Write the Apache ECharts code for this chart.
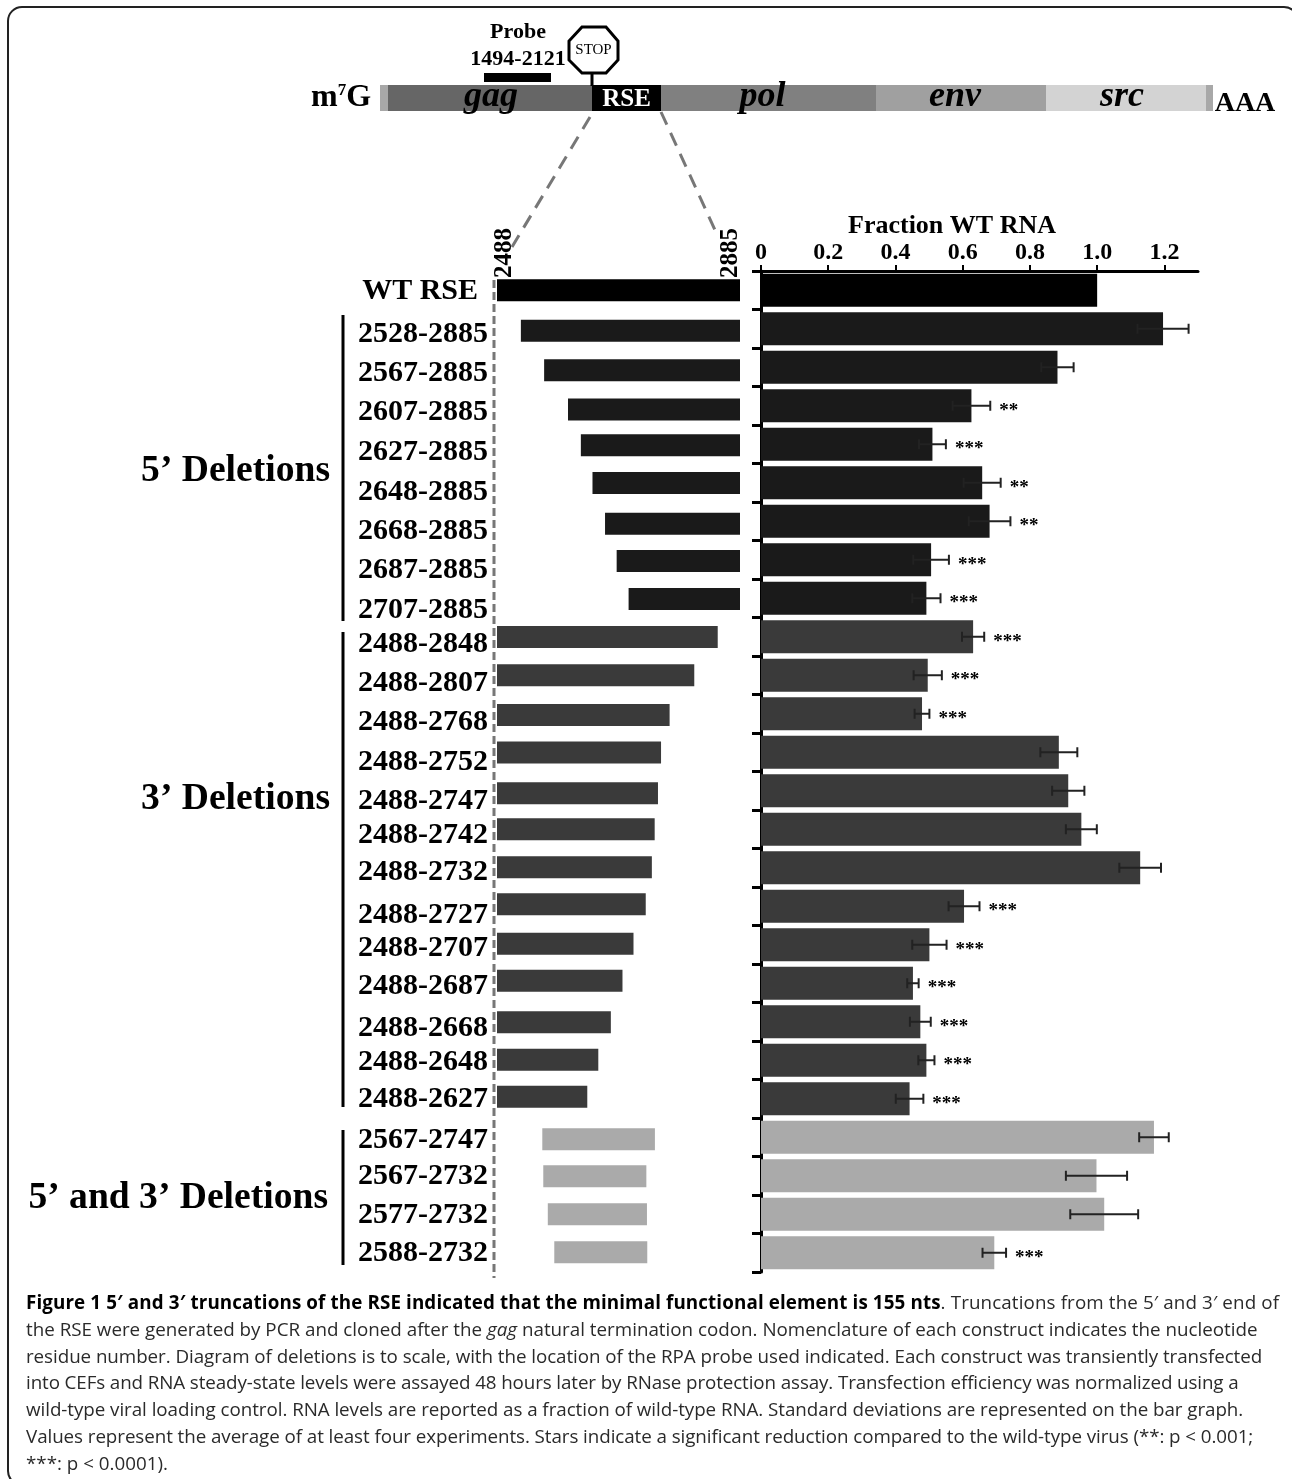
<!DOCTYPE html>
<html>
<head>
<meta charset="utf-8">
<title>Figure 1</title>
<script src="https://cdn.jsdelivr.net/npm/echarts@6/dist/echarts.min.js"></script>
<style>
body { margin: 0; background: #fff; }
#chart { width: 1292px; height: 1479px; }
#caption { position: absolute; left: 26px; top: 1289px; font-family: "Open Sans", sans-serif; font-size: 18.8px; line-height: 26.75px; color: #2a2a2a; white-space: nowrap; }
#caption b { color: #000; }
</style>
</head>
<body>
<div id="chart"></div>
<div id="caption">
<div style="letter-spacing:.12px"><b>Figure 1 5&#8242; and 3&#8242; truncations of the RSE indicated that the minimal functional element is 155 nts</b>. Truncations from the 5&#8242; and 3&#8242; end of</div>
<div>the RSE were generated by PCR and cloned after the <i>gag</i> natural termination codon. Nomenclature of each construct indicates the nucleotide</div>
<div style="letter-spacing:-.055px">residue number. Diagram of deletions is to scale, with the location of the RPA probe used indicated. Each construct was transiently transfected</div>
<div style="letter-spacing:-.107px">into CEFs and RNA steady-state levels were assayed 48 hours later by RNase protection assay. Transfection efficiency was normalized using a</div>
<div style="letter-spacing:-.05px">wild-type viral loading control. RNA levels are reported as a fraction of wild-type RNA. Standard deviations are represented on the bar graph.</div>
<div style="letter-spacing:-.07px">Values represent the average of at least four experiments. Stars indicate a significant reduction compared to the wild-type virus (**: p &lt; 0.001;</div>
<div>***: p &lt; 0.0001).</div>
</div>
<script>
// construct names, top to bottom
var constructs = ["WT RSE",
    "2528-2885","2567-2885","2607-2885","2627-2885","2648-2885","2668-2885","2687-2885","2707-2885",
    "2488-2848","2488-2807","2488-2768","2488-2752","2488-2747","2488-2742","2488-2732","2488-2727",
    "2488-2707","2488-2687","2488-2668","2488-2648","2488-2627",
    "2567-2747","2567-2732","2577-2732","2588-2732"];
// 0 wt, 1 = 5' deletion, 2 = 3' deletion, 3 = both
var constructGroup = [0, 1,1,1,1,1,1,1,1, 2,2,2,2,2,2,2,2,2,2,2,2,2, 3,3,3,3];
var groupColor = ["#000000", "#1a1a1a", "#3a3a3a", "#aaaaaa"];

// left panel, drawn extent of each bar (nt)
var barStart = [2488, 2527,2565,2604,2625,2644,2664.5,2683.5,2703,
    2488,2488,2488,2488,2488,2488,2488,2488,2488,2488,2488,2488,2488,
    2562,2563.6,2571,2581.6];
var barEnd = [2885, 2885,2885,2885,2885,2885,2885,2885,2885,
    2848.6,2810.3,2770,2756,2751,2745.6,2741,2731,2711,2693,2674,2653.5,2635.5,
    2746,2732,2733,2733.5];

// right panel, fraction of WT RNA
var fractionWT = [1.0, 1.196,0.882,0.626,0.51,0.658,0.68,0.506,0.492,
    0.631,0.496,0.479,0.886,0.914,0.953,1.128,0.604,0.501,0.452,0.474,0.492,0.442,
    1.169,0.998,1.021,0.694];
var fractionSD = [0, 0.076,0.048,0.056,0.04,0.055,0.062,0.053,0.042,
    0.033,0.042,0.022,0.055,0.048,0.046,0.062,0.046,0.051,0.017,0.031,0.024,0.041,
    0.044,0.091,0.101,0.035];
var stars = ["", "","","**","***","**","**","***","***",
    "***","***","***","","","","","***","***","***","***","***","***",
    "","","","***"];
var fractionTicks = [0, 0.2, 0.4, 0.6, 0.8, 1.0, 1.2];

// genome map, segment widths as drawn
var genomeNames = ["", "gag", "RSE", "pol", "env", "src", " "];
var genomeWidths = [8, 204, 69, 215, 170, 160, 7];
var genomeColors = ["#a8a8a8", "#666666", "#000000", "#808080", "#a0a0a0", "#d3d3d3", "#a8a8a8"];
var genomeLabelShift = [0, 1, 0, -6, -6, -4, 0];

// the figure's hand placed rows are a little off the regular grid
var barNudge = [0,2,3,3.8,1,0.2,2.5,1.3,0.7,0.3,0,1.2,0.3,2.5,0,-0.5,-2,-1,-2.5,0.5,-0.6,-2,2,0.5,0,-0.5];
var labelNudge = [-2,2.5,3,3.5,5,6.5,7,7.5,9,4.5,5,6,7,7.5,3,2,6,1,0,4,-1,-2,0,-2.5,-1.5,-2];

var SERIF = '"Liberation Serif", serif';
var myChart = echarts.init(document.getElementById("chart"));

function leftBars(params, api) {
    var i = api.value(2);
    var a = api.coord([api.value(0), i]);
    var b = api.coord([api.value(1), i]);
    return {
        type: "rect",
        shape: { x: a[0], y: a[1] - 11 + barNudge[i], width: b[0] - a[0], height: 22 },
        style: { fill: groupColor[constructGroup[i]] }
    };
}

function rowLabels(params, api) {
    var i = api.value(1);
    var p = api.coord([api.value(0), i]);
    return {
        type: "text",
        style: {
            x: p[0] - (i === 0 ? 19 : 9),
            y: p[1] + labelNudge[i] + 2.5,
            text: constructs[i],
            textAlign: "right",
            textVerticalAlign: "middle",
            font: "bold 30px " + SERIF,
            fill: "#000"
        }
    };
}

function errorBars(params, api) {
    var i = api.value(0);
    var mean = api.value(1), sd = api.value(2);
    if (!sd) return null;
    var lo = api.coord([mean - sd, i]);
    var hi = api.coord([mean + sd, i]);
    var line = { stroke: "#222", lineWidth: 2 };
    var kids = [
        { type: "line", shape: { x1: lo[0], y1: lo[1], x2: hi[0], y2: hi[1] }, style: line },
        { type: "line", shape: { x1: lo[0], y1: lo[1] - 5, x2: lo[0], y2: lo[1] + 5 }, style: line },
        { type: "line", shape: { x1: hi[0], y1: hi[1] - 5, x2: hi[0], y2: hi[1] + 5 }, style: line }
    ];
    if (stars[i]) {
        kids.push({
            type: "text",
            style: {
                x: hi[0] + 9, y: hi[1] + 5, text: stars[i],
                textAlign: "left", textVerticalAlign: "middle",
                font: "bold 19px " + SERIF, fill: "#000"
            }
        });
    }
    return { type: "group", children: kids };
}

var rangeData = [], labelData = [], fractionData = [], errorData = [];
for (var i = 0; i < constructs.length; i++) {
    rangeData.push([barStart[i], barEnd[i], i]);
    labelData.push([2488, i]);
    fractionData.push({ value: fractionWT[i], itemStyle: { color: groupColor[constructGroup[i]] } });
    errorData.push([i, fractionWT[i], fractionSD[i]]);
}

var genomeSeries = genomeNames.map(function (name, k) {
    var plain = name === "RSE";
    return {
        type: "bar", stack: "genome", xAxisIndex: 2, yAxisIndex: 2,
        barWidth: 26, silent: true,
        data: [genomeWidths[k]],
        itemStyle: { color: genomeColors[k] },
        label: {
            show: name.trim() !== "",
            formatter: name,
            position: "inside",
            offset: [genomeLabelShift[k], plain ? 2 : -1],
            color: plain ? "#fff" : "#000",
            fontFamily: '"Liberation Serif", serif',
            fontWeight: "bold",
            fontStyle: plain ? "normal" : "italic",
            fontSize: plain ? 25 : 36
        }
    };
});

function serifText(x, y, text, size, extra) {
    var style = { x: x, y: y, text: text, font: "bold " + size + "px " + SERIF, fill: "#000",
        textAlign: "center", textVerticalAlign: "middle" };
    for (var k in extra) style[k] = extra[k];
    return { type: "text", z: 20, style: style };
}

// reads bottom to top, turned round its own centre
function upText(x, y, text, size) {
    return { type: "text", z: 20, x: x, y: y, rotation: Math.PI / 2,
        style: { x: 0, y: 0, text: text, font: "bold " + size + "px " + SERIF, fill: "#000",
            textAlign: "center", textVerticalAlign: "middle" } };
}

function dashed(x1, y1, x2, y2, dash) {
    return { type: "line", z: 5, shape: { x1: x1, y1: y1, x2: x2, y2: y2 },
        style: { stroke: "#777", lineWidth: 3, lineDash: dash } };
}

function solid(x1, y1, x2, y2, w) {
    return { type: "line", z: 5, shape: { x1: x1, y1: y1, x2: x2, y2: y2 },
        style: { stroke: "#000", lineWidth: w } };
}

var option = {
    animation: false,
    backgroundColor: "#fff",
    grid: [
        { left: 497, top: 271, width: 243, height: 1001 },
        { left: 761, top: 271, width: 437, height: 1001 },
        { left: 380, top: 85, width: 833, height: 26 }
    ],
    xAxis: [
        { gridIndex: 0, type: "value", min: 2488, max: 2885, show: false },
        {
            gridIndex: 1, type: "value", position: "top", min: 0, max: 1.3,
            splitLine: { show: false },
            axisLine: { show: true, onZero: false, lineStyle: { color: "#000", width: 3 } },
            axisTick: { show: true, length: 6, customValues: fractionTicks, lineStyle: { color: "#000", width: 2 } },
            axisLabel: {
                customValues: fractionTicks, margin: 6,
                formatter: function (v) { return v === 0 ? "0" : v.toFixed(1); },
                color: "#000", fontFamily: SERIF, fontWeight: "bold", fontSize: 24
            }
        },
        { gridIndex: 2, type: "value", min: 0, max: 833, show: false }
    ],
    yAxis: [
        { gridIndex: 0, type: "category", inverse: true, data: constructs, show: false },
        {
            gridIndex: 1, type: "category", inverse: true, data: constructs,
            axisLine: { show: true, onZero: false, lineStyle: { color: "#000", width: 3 } },
            axisTick: { show: true, length: 9, interval: 0, lineStyle: { color: "#000", width: 3 } },
            axisLabel: { show: false }
        },
        { gridIndex: 2, type: "category", data: ["genome"], show: false }
    ],
    series: [
        { type: "custom", xAxisIndex: 0, yAxisIndex: 0, renderItem: leftBars, data: rangeData,
            encode: { x: [0, 1], y: 2 }, silent: true },
        { type: "custom", xAxisIndex: 0, yAxisIndex: 0, renderItem: rowLabels, data: labelData,
            encode: { x: 0, y: 1 }, silent: true },
        { type: "bar", xAxisIndex: 1, yAxisIndex: 1, barWidth: 33, data: fractionData, silent: true },
        { type: "custom", xAxisIndex: 1, yAxisIndex: 1, renderItem: errorBars, data: errorData, z: 5,
            encode: { x: [1], y: 0 }, silent: true }
    ].concat(genomeSeries),
    graphic: [
        // panel frame
        { type: "rect", z: 1, shape: { x: 8, y: 7, width: 1290, height: 1478, r: 14 },
            style: { fill: "none", stroke: "#222", lineWidth: 2 } },
        // probe and stop codon
        serifText(518, 32, "Probe", 22),
        serifText(518, 59, "1494-2121", 22),
        { type: "rect", z: 5, shape: { x: 484, y: 73, width: 67, height: 9 }, style: { fill: "#000" } },
        solid(592, 73, 592, 86, 3),
        { type: "polygon", z: 6, shape: { points: [[582,27],[606,27],[618,41],[618,60],[606,73],[582,73],[569,60],[569,41]] },
            style: { fill: "#fff", stroke: "#000", lineWidth: 3 } },
        { type: "text", z: 7, style: { x: 593.5, y: 50, text: "STOP", font: "15px " + SERIF, fill: "#000",
            textAlign: "center", textVerticalAlign: "middle" } },
        // ends of the genome
        { type: "text", z: 20, style: {
            x: 311, y: 98,
            text: "{b|m}{s|7}{b|G}",
            textVerticalAlign: "middle",
            rich: {
                b: { font: "bold 32px " + SERIF, fill: "#000" },
                s: { font: "bold 17px " + SERIF, fill: "#000", verticalAlign: "top", padding: [0, 0, 8, 0] }
            } } },
        serifText(1245, 104, "AAA", 28),
        // zoom lines from the RSE to the deletion panel
        dashed(590, 117, 512, 247, [14, 9]),
        dashed(661, 112, 715, 230, [14, 9]),
        dashed(494, 280, 494, 1278, [8, 4]),
        // panel ends and title
        upText(505, 253, "2488", 25),
        upText(731, 253, "2885", 25),
        serifText(952, 226, "Fraction WT RNA", 26),
        // group brackets and names
        solid(343, 315, 343, 621, 3),
        solid(343, 632, 343, 1107, 3),
        solid(343, 1130, 343, 1265, 3),
        serifText(330, 471, "5\u2019 Deletions", 37.6, { textAlign: "right" }),
        serifText(330, 799, "3\u2019 Deletions", 37.6, { textAlign: "right" }),
        serifText(328, 1198, "5\u2019 and 3\u2019 Deletions", 37.6, { textAlign: "right" })
    ]
};
myChart.setOption(option);
</script>
</body>
</html>
